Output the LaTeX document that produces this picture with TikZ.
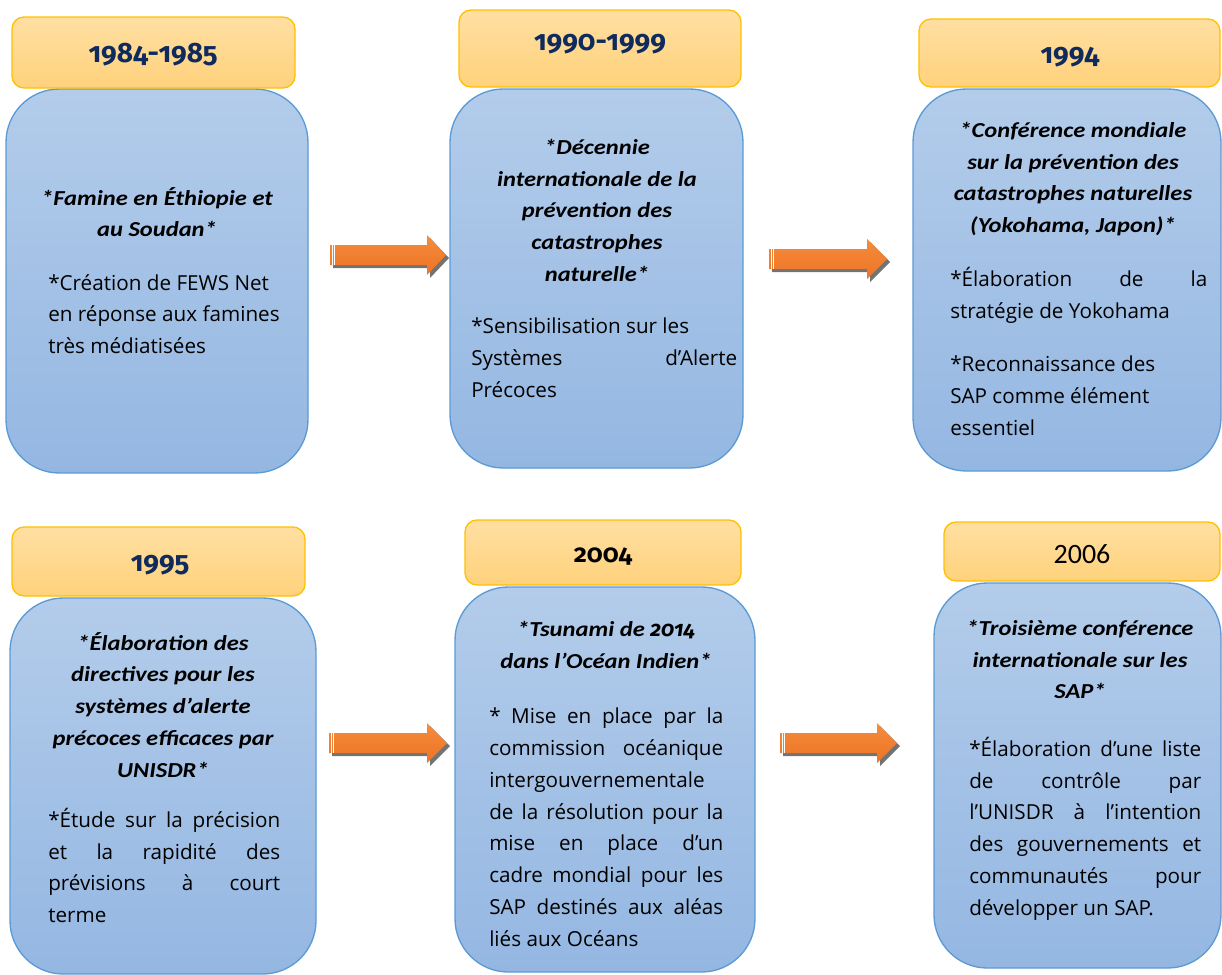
\documentclass[tikz,border=0pt]{standalone}
\usepackage{fontspec}
\setmainfont{Open Sans}
\newfontfamily\cand{Carlito}[FakeStretch=1.15]
\newfontfamily\candl{Carlito}
\newfontfamily\fira{Fira Sans}[Numbers=OldStyle]
\usetikzlibrary{fit}
\definecolor{navy}{HTML}{0F2B5E}
\definecolor{hdrborder}{HTML}{FFC000}
\definecolor{hdrtop}{HTML}{FFDFA2}
\definecolor{hdrbot}{HTML}{FFD27C}
\definecolor{cardborder}{HTML}{5B9BD5}
\definecolor{cardtop}{HTML}{B3CCEA}
\definecolor{cardbot}{HTML}{94B7E2}
\definecolor{arrowtop}{HTML}{F68B3C}
\definecolor{arrowbot}{HTML}{EC7426}
\definecolor{shadowgray}{HTML}{5A5A5A}
\newcommand\jl[2]{\makebox[#1][s]{#2}}
\newcommand\blockarrow[4]{%
  \fill[shadowgray, opacity=0.85] (#1+3,#4-7) -- (#2+3,#4-7) -- (#2+3,#4-17) -- (#3+3,#4+3) -- (#2+3,#4+23) -- (#2+3,#4+13) -- (#1+3,#4+13) -- cycle;
  \shade[top color=arrowtop, bottom color=arrowbot] (#1,#4-10) -- (#2,#4-10) -- (#2,#4-20) -- (#3,#4) -- (#2,#4+20) -- (#2,#4+10) -- (#1,#4+10) -- cycle;
  \draw[white, line width=0.5pt] (#1+2,#4-10) -- (#1+2,#4+10) (#1+4.5,#4-10) -- (#1+4.5,#4+10);
}
\tikzset{
  yearbox/.style={draw=hdrborder, line width=1pt, top color=hdrtop, bottom color=hdrbot, rounded corners=9pt, inner sep=0pt},
  card/.style={draw=cardborder, line width=1pt, top color=cardtop, bottom color=cardbot, rounded corners=40pt, inner sep=0pt},
  titletext/.style={font=\cand\bfseries\itshape\fontsize{16}{23.8}\selectfont, align=center, anchor=north, inner sep=0pt, execute at begin node=\strut},
  bodytext/.style={font=\fontsize{15.5}{23.8}\selectfont, align=left, anchor=north west, inner sep=0pt, execute at begin node=\strut},
  yeartext/.style={font=\fira\bfseries\fontsize{21}{26}\selectfont, text=navy, anchor=base, inner sep=0pt},
}
\begin{document}
\begin{tikzpicture}[x=0.75pt,y=-0.75pt]
\useasboundingbox (0,0) rectangle (1222,975);
% cards
\node[card, fit={(6,89) (308,473)}] (c1) {};
\node[card, fit={(450,89) (743,468)}] (c2) {};
\node[card, fit={(913,89) (1221,471)}] (c3) {};
\node[card, fit={(10,598) (316,974)}] (c4) {};
\node[card, fit={(455,587) (755,972)}] (c5) {};
\node[card, fit={(934,583) (1221,968)}] (c6) {};
% headers
\node[yearbox, fit={(12,17) (295,88)}] (h1) {};
\node[yearbox, fit={(459,10) (741,87)}] (h2) {};
\node[yearbox, fit={(919,19) (1220,87)}] (h3) {};
\node[yearbox, fit={(12,527) (305,596)}] (h4) {};
\node[yearbox, fit={(465,520) (741,585)}] (h5) {};
\node[yearbox, fit={(944,522) (1220,581)}] (h6) {};
\node[yeartext] (y1) at (153,62) {1984-1985};
\node[yeartext] (y2) at (600,50) {1990-1999};
\node[yeartext] (y3) at (1070,63) {1994};
\node[yeartext] (y4) at (160,571) {1995};
\node[yeartext, text=black, font=\fira\bfseries\fontsize{19}{24}\selectfont] (y5) at (603,562) {2004};
\node[yeartext, text=black, font=\candl\fontsize{21}{24}\selectfont] (y6) at (1082,563) {2006};
% titles
\node[titletext] (t1) at (157,187) {*Famine en Éthiopie et\\au Soudan*};
\node[titletext] (t2) at (597,139) {*Décennie\\internationale de la\\prévention des\\catastrophes\\naturelle*};
\node[titletext] (t3) at (1073,122) {*Conférence mondiale\\sur la prévention des\\catastrophes naturelles\\(Yokohama, Japon)*};
\node[titletext] (t4) at (163,632) {*Élaboration des\\directives pour les\\systèmes d’alerte\\précoces efficaces par\\UNISDR*};
\node[titletext] (t5) at (606,621) {*Tsunami de {\fira\bfseries\itshape 2014}\\dans l’Océan Indien*};
\node[titletext] (t6) at (1080,620) {*Troisième conférence\\internationale sur les\\SAP*};
% bodies
\node[bodytext] (d1) at (48,274) {*Création de FEWS Net\\en réponse aux famines\\très médiatisées};
\node[bodytext] (d2) at (471,318) {*Sensibilisation sur les\\\jl{199.5pt}{Systèmes d’Alerte}\\Précoces};
\node[bodytext] (d3) at (950,267) {\jl{192.75pt}{*Élaboration de la}\\stratégie de Yokohama\\[16.5pt]*Reconnaissance des\\SAP comme élément\\essentiel};
\node[bodytext] (d4) at (48,808) {\jl{174pt}{*Étude sur la précision}\\\jl{174pt}{et la rapidité des}\\\jl{174pt}{prévisions à court}\\terme};
\node[bodytext] (d5) at (489,708) {\jl{175.5pt}{* Mise en place par la}\\\jl{175.5pt}{commission océanique}\\intergouvernementale\\\jl{175.5pt}{de la résolution pour la}\\\jl{175.5pt}{mise en place d’un}\\\jl{175.5pt}{cadre mondial pour les}\\\jl{175.5pt}{SAP destinés aux aléas}\\liés aux Océans};
\node[bodytext] (d6) at (969,737) {\jl{174pt}{*Élaboration d’une liste}\\\jl{174pt}{de contrôle par}\\\jl{174pt}{l’UNISDR à l’intention}\\\jl{174pt}{des gouvernements et}\\\jl{174pt}{communautés pour}\\développer un SAP.};
% arrows
\blockarrow{330}{427}{446}{255}
\blockarrow{769}{867}{887}{259}
\blockarrow{329}{427}{447}{743}
\blockarrow{780}{877}{897}{743}
\end{tikzpicture}
\end{document}
